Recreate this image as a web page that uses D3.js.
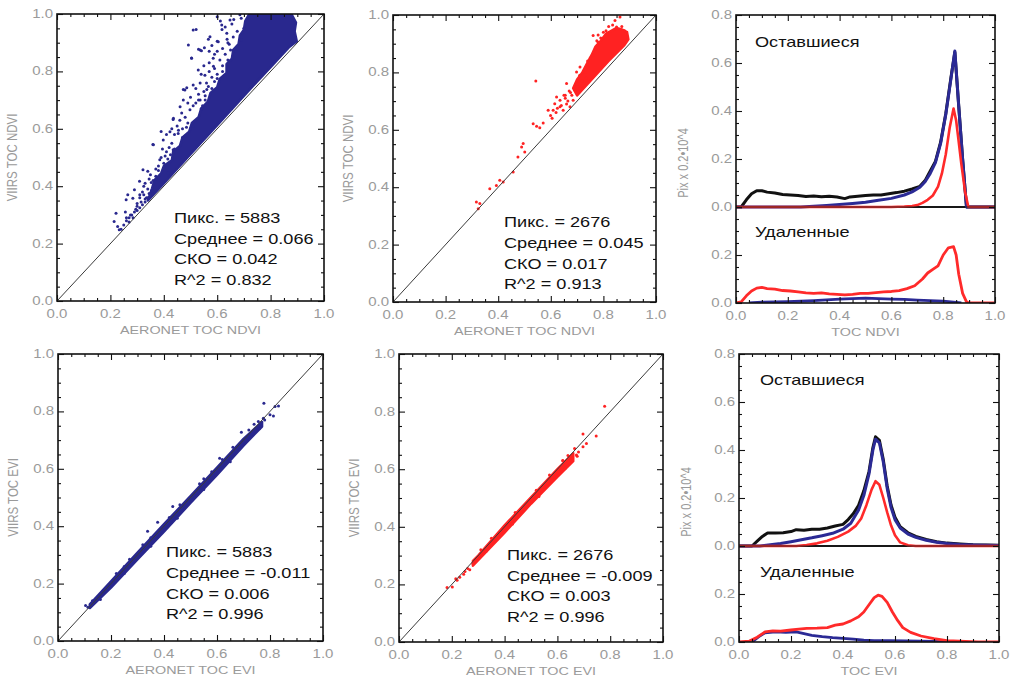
<!DOCTYPE html>
<html>
<head>
<meta charset="utf-8">
<script src="https://cdn.jsdelivr.net/npm/d3@7"></script>
<style>
  body { margin: 0; background: #ffffff; }
  svg { display: block; }
  text { font-family: "Liberation Sans", Arial, sans-serif; }
</style>
</head>
<body>
<svg id="chart" width="1012" height="679"></svg>
<script>
// ---------------- data ----------------
const axisTicks = [0, 0.2, 0.4, 0.6, 0.8, 1.0];
const axisTickLabels = ["0.0", "0.2", "0.4", "0.6", "0.8", "1.0"];
const histYTicks = [-0.4, -0.2, 0, 0.2, 0.4, 0.6, 0.8];
const histYTickLabels = ["0.0", "0.2", "0.0", "0.2", "0.4", "0.6", "0.8"];

// NDVI, all retained pixels (blue): dense core outline + individual points
const ndviAllCore = [[0.34,0.35],[0.40,0.41],[0.50,0.512],[0.60,0.613],[0.70,0.715],[0.80,0.815],[0.87,0.885],[0.898,0.905],[0.89,0.94],[0.895,0.97],[0.878,1.0],[0.72,1.0],[0.705,0.975],[0.70,0.945],[0.685,0.925],[0.68,0.895],[0.66,0.875],[0.655,0.845],[0.635,0.825],[0.635,0.795],[0.61,0.775],[0.60,0.745],[0.575,0.725],[0.565,0.695],[0.54,0.67],[0.53,0.64],[0.505,0.62],[0.495,0.59],[0.47,0.57],[0.46,0.54],[0.435,0.52],[0.43,0.49],[0.40,0.47],[0.39,0.445],[0.365,0.42],[0.355,0.39]];
const ndviAllPoints = [[0.214,0.277],[0.227,0.26],[0.233,0.248],[0.256,0.31],[0.265,0.37],[0.259,0.353],[0.29,0.388],[0.284,0.358],[0.309,0.417],[0.322,0.457],[0.34,0.452],[0.359,0.545],[0.39,0.591],[0.41,0.58],[0.385,0.492],[0.435,0.632],[0.467,0.655],[0.473,0.737],[0.486,0.743],[0.504,0.847],[0.53,0.877],[0.521,0.946],[0.552,0.882],[0.567,0.912],[0.612,0.976],[0.618,0.946],[0.662,0.981],[0.586,0.818],[0.536,0.76],[0.435,0.527],[0.416,0.446],[0.353,0.413],[0.221,0.306],[0.637,0.912],[0.561,0.737],[0.511,0.609],[0.51,0.944],[0.492,0.892],[0.536,0.875],[0.541,0.872],[0.504,0.846],[0.573,0.921],[0.604,0.903],[0.617,0.962],[0.648,0.979],[0.529,0.805],[0.554,0.787],[0.479,0.735],[0.51,0.753],[0.461,0.677],[0.436,0.637],[0.398,0.561],[0.361,0.544],[0.423,0.59],[0.473,0.70],[0.585,0.846],[0.636,0.933],[0.685,0.997],[0.567,0.747],[0.498,0.666],[0.536,0.70],[0.454,0.584],[0.31,0.37],[0.325,0.40],[0.345,0.425],[0.27,0.29],[0.3,0.33],
  [0.60,0.99],[0.63,0.955],[0.655,0.965],[0.675,0.94],[0.69,0.985],[0.70,0.95],[0.66,0.92],[0.645,0.895],
  [0.58,0.89],[0.60,0.87],[0.62,0.88],[0.63,0.86],[0.61,0.84],[0.59,0.86],[0.64,0.90],[0.65,0.875],[0.57,0.87],[0.60,0.905],
  [0.55,0.82],[0.57,0.80],[0.58,0.78],[0.60,0.79],[0.56,0.76],[0.59,0.81],[0.62,0.82],[0.54,0.79],[0.57,0.83],[0.6,0.775],
  [0.50,0.71],[0.52,0.69],[0.53,0.72],[0.55,0.73],[0.51,0.68],[0.54,0.67],[0.49,0.69],[0.52,0.74],[0.555,0.715],[0.53,0.70],
  [0.45,0.61],[0.47,0.60],[0.46,0.63],[0.48,0.64],[0.44,0.58],[0.47,0.57],[0.49,0.62],[0.43,0.60],[0.455,0.595],[0.485,0.605],
  [0.39,0.50],[0.40,0.48],[0.41,0.52],[0.38,0.47],[0.42,0.535],[0.37,0.46],[0.395,0.53],[0.43,0.55],[0.405,0.505],[0.415,0.495],
  [0.32,0.38],[0.33,0.41],[0.34,0.39],[0.35,0.44],[0.31,0.36],[0.36,0.42],[0.33,0.355],[0.37,0.435],[0.30,0.34],[0.345,0.375],
  [0.25,0.265],[0.26,0.28],[0.27,0.275],[0.28,0.30],[0.285,0.29],[0.29,0.31],[0.295,0.32],[0.24,0.25],[0.26,0.29],[0.275,0.3],
  [0.31,0.325],[0.32,0.335],[0.33,0.345],[0.335,0.36],[0.30,0.315],[0.315,0.345],[0.325,0.37],[0.34,0.36],[0.35,0.37],[0.355,0.385],
  [0.62,0.80],[0.64,0.84],[0.67,0.87],[0.69,0.91],[0.58,0.74],[0.59,0.765],[0.545,0.68],[0.555,0.70],[0.50,0.60],[0.48,0.575],[0.44,0.53],[0.425,0.51],[0.38,0.455],[0.37,0.425]];

// NDVI, best-quality pixels (red)
const ndviBestCore = [[0.70,0.72],[0.76,0.78],[0.82,0.84],[0.88,0.895],[0.895,0.915],[0.89,0.94],[0.87,0.95],[0.85,0.955],[0.83,0.945],[0.81,0.935],[0.79,0.91],[0.77,0.89],[0.755,0.86],[0.74,0.835],[0.72,0.80],[0.70,0.775],[0.685,0.745]];
const ndviBestPoints = [[0.317,0.348],[0.33,0.343],[0.324,0.325],[0.368,0.395],[0.406,0.424],[0.419,0.418],[0.457,0.453],[0.475,0.505],[0.489,0.54],[0.495,0.552],[0.533,0.621],[0.546,0.612],[0.558,0.607],[0.571,0.624],[0.543,0.77],[0.59,0.668],[0.599,0.65],[0.609,0.668],[0.615,0.691],[0.635,0.703],[0.622,0.714],[0.647,0.668],[0.66,0.761],[0.692,0.738],[0.698,0.801],[0.711,0.819],[0.761,0.929],[0.844,0.981],[0.863,0.993],[0.85,0.958],[0.685,0.703],[0.673,0.68],[0.635,0.68],[0.501,0.523],[0.393,0.406],[0.655,0.72],[0.67,0.735],[0.74,0.84],[0.78,0.93],
  [0.70,0.76],[0.71,0.79],[0.72,0.77],[0.69,0.74],[0.73,0.80],[0.74,0.82],[0.75,0.85],[0.76,0.86],[0.77,0.88],[0.78,0.905],[0.79,0.92],[0.80,0.94],[0.81,0.945],[0.82,0.96],[0.835,0.965],[0.87,0.96],[0.88,0.945],[0.68,0.72],[0.665,0.70],[0.66,0.69],[0.675,0.73],[0.655,0.71],[0.64,0.685],[0.625,0.675],[0.62,0.66],[0.605,0.64],[0.65,0.72],[0.71,0.745],[0.735,0.78],[0.775,0.91]];

// EVI, all retained pixels (blue)
const eviAllCore = [[0.12,0.115],[0.2,0.186],[0.3,0.284],[0.4,0.381],[0.5,0.481],[0.6,0.579],[0.7,0.681],[0.77,0.747],[0.77,0.763],[0.7,0.704],[0.6,0.604],[0.5,0.505],[0.4,0.407],[0.3,0.308],[0.2,0.208],[0.12,0.128]];
const eviAllPoints = [[0.777,0.828],[0.819,0.817],[0.832,0.819],[0.8,0.788],[0.813,0.784],[0.775,0.776],[0.756,0.765],[0.692,0.727],[0.61,0.637],[0.534,0.548],[0.547,0.539],[0.522,0.516],[0.433,0.469],[0.376,0.414],[0.338,0.382],[0.104,0.124],[0.154,0.156],[0.113,0.118],[0.16,0.145],
  [0.13,0.14],[0.17,0.175],[0.22,0.235],[0.25,0.26],[0.27,0.285],[0.32,0.335],[0.35,0.36],[0.42,0.43],[0.46,0.475],[0.55,0.565],[0.58,0.59],[0.62,0.632],[0.66,0.675],[0.72,0.735],[0.74,0.755],[0.78,0.77],[0.76,0.74],[0.73,0.72],[0.45,0.428],[0.25,0.235],[0.35,0.33],[0.55,0.528],[0.65,0.625]];

// EVI, best-quality pixels (red)
const eviBestCore = [[0.28,0.265],[0.4,0.38],[0.5,0.48],[0.6,0.573],[0.66,0.628],[0.66,0.655],[0.6,0.6],[0.5,0.502],[0.4,0.405],[0.3,0.3],[0.28,0.282]];
const eviBestPoints = [[0.779,0.819],[0.697,0.722],[0.747,0.715],[0.71,0.689],[0.697,0.678],[0.665,0.672],[0.672,0.649],[0.621,0.629],[0.182,0.189],[0.202,0.191],[0.215,0.22],[0.245,0.235],[0.268,0.251],[0.28,0.272],[0.299,0.29],[0.22,0.214],
  [0.31,0.32],[0.35,0.36],[0.44,0.45],[0.52,0.527],[0.57,0.58],[0.62,0.63],[0.64,0.648],[0.33,0.315],[0.43,0.41],[0.53,0.505],[0.63,0.603],[0.68,0.66],[0.675,0.645],[0.25,0.245],[0.26,0.255],[0.23,0.225]];

// Statistics printed on the scatter plots
const ndviAllStats = ["Пикс. = 5883", "Среднее = 0.066", "СКО = 0.042", "R^2 = 0.832"];
const ndviBestStats = ["Пикс. = 2676", "Среднее = 0.045", "СКО = 0.017", "R^2 = 0.913"];
const eviAllStats = ["Пикс. = 5883", "Среднее = -0.011", "СКО = 0.006", "R^2 = 0.996"];
const eviBestStats = ["Пикс. = 2676", "Среднее = -0.009", "СКО = 0.003", "R^2 = 0.996"];

// NDVI histograms: retained pixels (upper block)
const ndviKeptBlack = [[0.0,0],[0.02,0],[0.04,0.03],[0.06,0.055],[0.08,0.068],[0.10,0.068],[0.12,0.062],[0.15,0.058],[0.18,0.052],[0.21,0.05],[0.24,0.048],[0.27,0.044],[0.30,0.046],[0.33,0.043],[0.36,0.045],[0.39,0.042],[0.42,0.035],[0.44,0.042],[0.47,0.045],[0.50,0.048],[0.53,0.05],[0.56,0.05],[0.59,0.055],[0.62,0.06],[0.65,0.066],[0.68,0.075],[0.71,0.086],[0.73,0.11],[0.75,0.15],[0.77,0.19],[0.79,0.27],[0.81,0.39],[0.83,0.54],[0.845,0.645],[0.86,0.42],[0.875,0.2],[0.89,0.0],[1.0,0]];
const ndviKeptBlue = [[0.0,0],[0.25,0],[0.30,0.003],[0.35,0.006],[0.40,0.01],[0.45,0.015],[0.50,0.02],[0.55,0.028],[0.60,0.036],[0.65,0.05],[0.68,0.063],[0.71,0.082],[0.73,0.105],[0.75,0.14],[0.77,0.185],[0.79,0.265],[0.81,0.385],[0.83,0.535],[0.845,0.65],[0.86,0.42],[0.875,0.2],[0.89,0],[1.0,0]];
const ndviKeptRed = [[0.0,0],[0.60,0],[0.65,0.002],[0.68,0.004],[0.70,0.008],[0.72,0.017],[0.74,0.03],[0.76,0.048],[0.78,0.085],[0.795,0.14],[0.81,0.22],[0.825,0.33],[0.84,0.41],[0.85,0.36],[0.86,0.27],[0.87,0.18],[0.885,0.06],[0.897,0],[1.0,0]];
// NDVI histograms: removed pixels (lower block)
const ndviDropRed = [[0,0],[0.02,0.005],[0.04,0.03],[0.06,0.05],[0.08,0.062],[0.10,0.065],[0.12,0.06],[0.15,0.058],[0.18,0.052],[0.21,0.05],[0.24,0.046],[0.27,0.042],[0.30,0.04],[0.33,0.042],[0.36,0.038],[0.39,0.036],[0.42,0.034],[0.45,0.036],[0.48,0.04],[0.51,0.04],[0.54,0.043],[0.57,0.046],[0.60,0.048],[0.63,0.052],[0.66,0.06],[0.69,0.072],[0.72,0.1],[0.74,0.125],[0.76,0.14],[0.78,0.155],[0.80,0.2],[0.82,0.23],[0.84,0.235],[0.85,0.2],[0.86,0.12],[0.875,0.04],[0.89,0.005],[0.9,0],[1.0,0]];
const ndviDropBlue = [[0.05,0],[0.1,0.004],[0.2,0.006],[0.3,0.01],[0.4,0.016],[0.5,0.02],[0.55,0.018],[0.6,0.016],[0.65,0.015],[0.7,0.012],[0.75,0.01],[0.8,0.008],[0.84,0.004],[0.87,0]];

// EVI histograms: retained pixels (upper block)
const eviKeptBlack = [[0,0],[0.05,0],[0.07,0.02],[0.09,0.04],[0.11,0.054],[0.14,0.054],[0.17,0.055],[0.20,0.06],[0.22,0.068],[0.25,0.066],[0.28,0.07],[0.31,0.07],[0.34,0.075],[0.37,0.083],[0.40,0.09],[0.42,0.11],[0.44,0.135],[0.46,0.17],[0.48,0.23],[0.50,0.31],[0.515,0.41],[0.525,0.455],[0.54,0.44],[0.555,0.36],[0.57,0.25],[0.585,0.17],[0.60,0.12],[0.62,0.08],[0.65,0.055],[0.68,0.04],[0.72,0.027],[0.76,0.018],[0.80,0.012],[0.85,0.008],[0.9,0.005],[1.0,0.003]];
const eviKeptBlue = [[0,0],[0.08,0],[0.12,0.005],[0.16,0.01],[0.20,0.018],[0.24,0.026],[0.28,0.034],[0.32,0.043],[0.36,0.053],[0.40,0.07],[0.43,0.095],[0.46,0.15],[0.48,0.21],[0.50,0.3],[0.515,0.4],[0.525,0.445],[0.54,0.43],[0.555,0.35],[0.57,0.24],[0.585,0.16],[0.60,0.11],[0.62,0.075],[0.65,0.05],[0.68,0.036],[0.72,0.024],[0.76,0.016],[0.80,0.01],[0.85,0.006],[0.9,0.004],[1.0,0.002]];
const eviKeptRed = [[0,0],[0.22,0],[0.26,0.004],[0.30,0.011],[0.34,0.022],[0.38,0.038],[0.42,0.06],[0.45,0.085],[0.47,0.115],[0.49,0.17],[0.51,0.235],[0.525,0.27],[0.54,0.255],[0.555,0.2],[0.57,0.14],[0.585,0.085],[0.60,0.045],[0.62,0.015],[0.65,0.003],[0.68,0],[1.0,0]];
// EVI histograms: removed pixels (lower block)
const eviDropRed = [[0,0],[0.04,0.004],[0.07,0.02],[0.10,0.042],[0.13,0.046],[0.16,0.045],[0.20,0.05],[0.23,0.054],[0.26,0.057],[0.30,0.058],[0.34,0.06],[0.37,0.07],[0.40,0.075],[0.43,0.088],[0.46,0.105],[0.48,0.125],[0.50,0.155],[0.52,0.185],[0.535,0.195],[0.55,0.19],[0.57,0.165],[0.59,0.125],[0.61,0.09],[0.63,0.06],[0.66,0.04],[0.70,0.025],[0.75,0.014],[0.80,0.006],[0.87,0.002],[0.92,0],[1.0,0]];
const eviDropBlue = [[0.05,0],[0.08,0.025],[0.10,0.038],[0.14,0.042],[0.18,0.04],[0.22,0.042],[0.25,0.035],[0.28,0.028],[0.32,0.022],[0.36,0.018],[0.40,0.015],[0.44,0.012],[0.48,0.008],[0.52,0.006],[0.58,0.006],[0.64,0.005],[0.70,0.004],[0.75,0.002],[0.80,0]];

const blockLabels = ["Оставшиеся", "Удаленные"];

// ---------------- styling ----------------
const BLUE = "#29288e";
const RED = "#ff2222";
const HBLUE = "#2b2a95";
const HRED = "#ff2a2a";
const GRAY = "#9a9a9a";
const SX = 1.25;          // horizontal stretch of the lettering
const LOWER_SHIFT = -0.4; // lower histogram block sits 0.4 units below the upper one

const svg = d3.select("#chart");
let clipId = 0;

function label(g, x, y, s, size, fill, anchor) {
  return g.append("text")
    .attr("transform", `translate(${x},${y}) scale(${SX},1)`)
    .attr("font-size", size).attr("fill", fill)
    .attr("text-anchor", anchor || "start")
    .text(s);
}
function vlabel(g, x, y, s, size, fill) {
  return g.append("text")
    .attr("transform", `translate(${x},${y}) rotate(-90) scale(1,${SX})`)
    .attr("font-size", size).attr("fill", fill)
    .attr("text-anchor", "middle")
    .text(s);
}

function minorOf(lo, hi, step, majors) {
  return d3.range(Math.round(lo / step), Math.round(hi / step) + 1)
    .map(i => +(i * step).toFixed(4))
    .filter(v => !majors.some(m => Math.abs(m - v) < 1e-6));
}

function frame(g, x, y, xMaj, yMaj, box) {
  const xMin = minorOf(x.domain()[0], x.domain()[1], 0.05, xMaj);
  const yMin = minorOf(y.domain()[0], y.domain()[1], 0.05, yMaj);
  const put = (axis, tr) => g.append("g").attr("transform", tr).call(axis)
    .call(s => s.select(".domain").remove())
    .call(s => s.selectAll("line").attr("stroke", "#111").attr("stroke-width", 1.1));
  [[xMaj, 6], [xMin, 3]].forEach(([vals, len]) => {
    put(d3.axisBottom(x).tickValues(vals).tickSize(-len).tickFormat(""), `translate(0,${box.y1})`);
    put(d3.axisTop(x).tickValues(vals).tickSize(-len).tickFormat(""), `translate(0,${box.y0})`);
  });
  [[yMaj, 6], [yMin, 3]].forEach(([vals, len]) => {
    put(d3.axisLeft(y).tickValues(vals).tickSize(-len).tickFormat(""), `translate(${box.x0},0)`);
    put(d3.axisRight(y).tickValues(vals).tickSize(-len).tickFormat(""), `translate(${box.x1},0)`);
  });
  g.append("rect").attr("x", box.x0).attr("y", box.y0)
    .attr("width", box.x1 - box.x0).attr("height", box.y1 - box.y0)
    .attr("fill", "none").attr("stroke", "#111").attr("stroke-width", 1.6);
}

function clip(box) {
  const id = "clip" + (clipId++);
  svg.append("clipPath").attr("id", id).append("rect")
    .attr("x", box.x0).attr("y", box.y0)
    .attr("width", box.x1 - box.x0).attr("height", box.y1 - box.y0);
  return `url(#${id})`;
}

function scatter(box, core, points, color, stats, statPos, yTitle, xTitle) {
  const g = svg.append("g");
  const x = d3.scaleLinear().domain([0, 1]).range([box.x0, box.x1]);
  const y = d3.scaleLinear().domain([0, 1]).range([box.y1, box.y0]);
  const inner = g.append("g").attr("clip-path", clip(box));
  inner.append("path").datum(core)
    .attr("d", d3.line().x(d => x(d[0])).y(d => y(d[1])).curve(d3.curveLinearClosed))
    .attr("fill", color).attr("stroke", color).attr("stroke-width", 2.5)
    .attr("stroke-linejoin", "round");
  inner.selectAll("circle").data(points).join("circle")
    .attr("cx", d => x(d[0])).attr("cy", d => y(d[1])).attr("r", 1.5)
    .attr("fill", color);
  inner.append("line")
    .attr("x1", x(0)).attr("y1", y(0)).attr("x2", x(1)).attr("y2", y(1))
    .attr("stroke", "#3a3a3a").attr("stroke-width", 1);
  frame(g, x, y, axisTicks, axisTicks, box);
  axisTicks.forEach((v, i) => {
    label(g, x(v), box.y1 + 17, axisTickLabels[i], 12, GRAY, "middle");
    label(g, box.x0 - 4, y(v) + 4, axisTickLabels[i], 12, GRAY, "end");
  });
  vlabel(g, box.x0 - 40, (box.y0 + box.y1) / 2, yTitle, 11.5, GRAY);
  label(g, (box.x0 + box.x1) / 2, box.y1 + 33, xTitle, 11.5, GRAY, "middle");
  stats.forEach((s, i) => label(g, statPos.x, statPos.ys[i], s, 14.5, "#111"));
}

function hist(box, upper, lower, xTitle, labelPos) {
  const g = svg.append("g");
  const x = d3.scaleLinear().domain([0, 1]).range([box.x0, box.x1]);
  const y = d3.scaleLinear().domain([-0.4, 0.8]).range([box.y1, box.y0]);
  const inner = g.append("g").attr("clip-path", clip(box));
  const line = off => d3.line().x(d => x(d[0])).y(d => y(d[1] + off));
  inner.append("line").attr("x1", x(0)).attr("x2", x(1))
    .attr("y1", y(0)).attr("y2", y(0)).attr("stroke", "#111").attr("stroke-width", 2);
  const draw = (data, off, color, w) => inner.append("path").datum(data)
    .attr("d", line(off)).attr("fill", "none").attr("stroke", color)
    .attr("stroke-width", w).attr("stroke-linejoin", "round");
  draw(upper.black, 0, "#111", 3);
  draw(upper.blue, 0, HBLUE, 3);
  draw(upper.red, 0, HRED, 2.6);
  inner.append("line").attr("x1", x(0)).attr("x2", x(1))
    .attr("y1", y(0)).attr("y2", y(0)).attr("stroke", "#222").attr("stroke-width", 0.9);
  draw(lower.blue, LOWER_SHIFT, HBLUE, 2.8);
  draw(lower.red, LOWER_SHIFT, HRED, 2.8);
  frame(g, x, y, axisTicks, histYTicks, box);
  axisTicks.forEach((v, i) => label(g, x(v), box.y1 + 17, axisTickLabels[i], 12, GRAY, "middle"));
  histYTicks.forEach((v, i) => label(g, box.x0 - 4, y(v) + 4, histYTickLabels[i], 12, GRAY, "end"));
  vlabel(g, box.x0 - 48, (box.y0 + box.y1) / 2 + 4, "Pix x 0.2•10^4", 11, GRAY);
  label(g, (box.x0 + box.x1) / 2, box.y1 + 33, xTitle, 11.5, GRAY, "middle");
  label(g, labelPos.x, labelPos.y0, blockLabels[0], 14.5, "#111");
  label(g, labelPos.x, labelPos.y1, blockLabels[1], 14.5, "#111");
}

// ---------------- panels ----------------
scatter({x0: 57, x1: 324, y0: 14, y1: 301}, ndviAllCore, ndviAllPoints, BLUE, ndviAllStats,
  {x: 174, ys: [223, 243.5, 264, 284.5]}, "VIIRS TOC NDVI", "AERONET TOC NDVI");
scatter({x0: 393, x1: 656, y0: 15, y1: 302}, ndviBestCore, ndviBestPoints, RED, ndviBestStats,
  {x: 504, ys: [227, 248, 268.5, 289]}, "VIIRS TOC NDVI", "AERONET TOC NDVI");
hist({x0: 736, x1: 995, y0: 15, y1: 303},
  {black: ndviKeptBlack, blue: ndviKeptBlue, red: ndviKeptRed},
  {blue: ndviDropBlue, red: ndviDropRed}, "TOC NDVI", {x: 755, y0: 47, y1: 237});

scatter({x0: 58, x1: 323, y0: 354, y1: 641}, eviAllCore, eviAllPoints, BLUE, eviAllStats,
  {x: 166, ys: [557, 577.5, 598.5, 619]}, "VIIRS TOC EVI", "AERONET TOC EVI");
scatter({x0: 399, x1: 663, y0: 354, y1: 642}, eviBestCore, eviBestPoints, RED, eviBestStats,
  {x: 507, ys: [560, 580.5, 601, 621.5]}, "VIIRS TOC EVI", "AERONET TOC EVI");
hist({x0: 739, x1: 999, y0: 354, y1: 642},
  {black: eviKeptBlack, blue: eviKeptBlue, red: eviKeptRed},
  {blue: eviDropBlue, red: eviDropRed}, "TOC EVI", {x: 760, y0: 385, y1: 577});
</script>
</body>
</html>
